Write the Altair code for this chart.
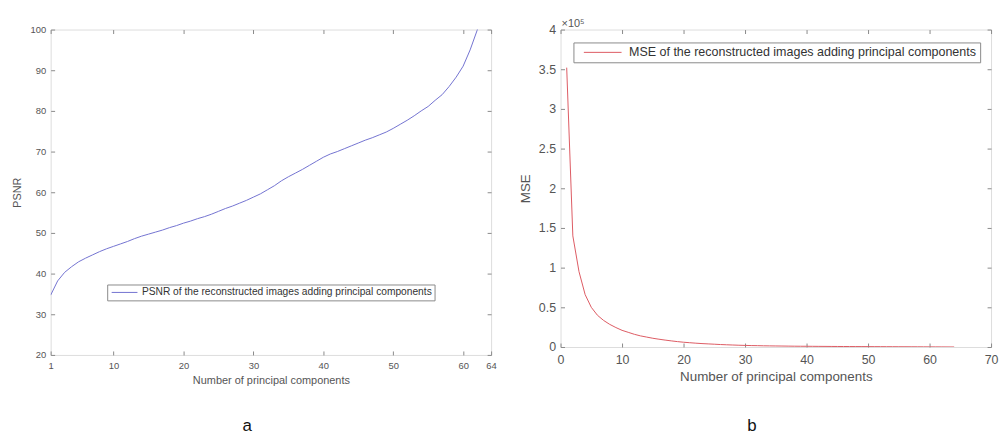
import altair as alt
import pandas as pd

# ---- data ----
components = list(range(1, 65))
psnr = [34.7, 38.2, 40.3, 41.7, 42.9, 43.8, 44.6, 45.4, 46.1, 46.7,
        47.3, 47.9, 48.6, 49.2, 49.7, 50.2, 50.7, 51.3, 51.8, 52.4,
        52.9, 53.5, 54.0, 54.6, 55.3, 56.0, 56.6, 57.3, 58.0, 58.8,
        59.6, 60.6, 61.6, 62.8, 63.8, 64.7, 65.6, 66.6, 67.6, 68.6,
        69.4, 70.0, 70.7, 71.4, 72.1, 72.8, 73.4, 74.1, 74.8, 75.7,
        76.7, 77.7, 78.8, 80.0, 81.1, 82.6, 84.0, 86.0, 88.3, 91.0,
        95.0, 99.8, 106.0, 118.0]
mse_e5 = [3.52, 1.40, 0.95, 0.66, 0.50, 0.40, 0.335, 0.285, 0.245, 0.21,
          0.185, 0.16, 0.14, 0.125, 0.11, 0.098, 0.087, 0.077, 0.068, 0.06,
          0.054, 0.048, 0.043, 0.039, 0.035, 0.031, 0.028, 0.025, 0.022, 0.02,
          0.018, 0.017, 0.015, 0.014, 0.013, 0.012, 0.011, 0.010, 0.0095, 0.009,
          0.0085, 0.008, 0.0075, 0.007, 0.0066, 0.0062, 0.0058, 0.0054, 0.005, 0.0047,
          0.0044, 0.0041, 0.0038, 0.0035, 0.0032, 0.0029, 0.0026, 0.0023, 0.002, 0.0017,
          0.0014, 0.001, 0.0006, 0.0002]
psnr_name = "PSNR of the reconstructed images adding principal components"
mse_name = "MSE of the reconstructed images adding principal components"
x_title = "Number of principal components"
left_xticks = [1, 10, 20, 30, 40, 50, 60, 64]
left_yticks = [20, 30, 40, 50, 60, 70, 80, 90, 100]
right_xticks = [0, 10, 20, 30, 40, 50, 60, 70]
right_yticks = [0, 0.5, 1, 1.5, 2, 2.5, 3, 3.5, 4]

df_l = pd.DataFrame({"x": components, "y": psnr, "series": psnr_name})
df_r = pd.DataFrame({"x": components, "y": mse_e5, "series": mse_name})

FONT = "Liberation Sans"
AX = "#8a8a8a"
TXT = "#555555"


def panel(df, name, color, xdom, xticks, ydom, yticks, ytitle, w, h,
          lab_fs, title_fs, leg_fs, leg_x, leg_y, sym, clip_h, leg_pad,
          sym_off, lab_off, letter, letter_y,
          xlp, xtp, ylp, ytp, yfmt=None):
    xs = alt.Scale(domain=xdom, nice=False, zero=False)
    ys = alt.Scale(domain=ydom, nice=False, zero=False)
    base = alt.Chart(df)
    yax = dict(values=yticks, orient="left", ticks=False, domain=False, grid=False,
               title=ytitle, labelFontSize=lab_fs, titleFontSize=title_fs,
               labelColor=TXT, titleColor=TXT, labelFont=FONT, titleFont=FONT,
               titleFontWeight="normal", labelPadding=ylp, titlePadding=ytp)
    if yfmt:
        yax["format"] = yfmt
    line = base.mark_line(clip=True, strokeWidth=1).encode(
        x=alt.X("x:Q", scale=xs, axis=alt.Axis(
            values=xticks, orient="bottom", ticks=False, domain=False, grid=False,
            title=x_title, labelFontSize=lab_fs, titleFontSize=title_fs,
            labelColor=TXT, titleColor=TXT, labelFont=FONT, titleFont=FONT,
            titleFontWeight="normal", labelPadding=xlp, titlePadding=xtp,
            labelFlush=False)),
        y=alt.Y("y:Q", scale=ys, axis=alt.Axis(**yax)),
        color=alt.Color("series:N", scale=alt.Scale(domain=[name], range=[color]),
                        legend=alt.Legend(
                            title=None, orient="none", legendX=leg_x, legendY=leg_y,
                            direction="horizontal", symbolType="stroke",
                            symbolSize=sym, symbolStrokeWidth=1, clipHeight=clip_h,
                            symbolOffset=sym_off, labelOffset=lab_off,
                            labelFontSize=leg_fs, labelFont=FONT, labelColor="#333333",
                            strokeColor="#8a8a8a", fillColor="white",
                            padding=leg_pad, labelLimit=0, cornerRadius=0)),
    )
    tk = dict(labels=False, domain=False, grid=False, ticks=True, tickSize=4,
              offset=-4, title=None, tickColor=AX)
    t1 = base.mark_line(opacity=0, clip=True).encode(
        x=alt.X("x:Q", scale=xs, axis=alt.Axis(values=xticks, orient="top", **tk)),
        y=alt.Y("y:Q", scale=ys, axis=alt.Axis(values=yticks, orient="right", **tk)))
    t2 = base.mark_line(opacity=0, clip=True).encode(
        x=alt.X("x:Q", scale=xs, axis=alt.Axis(values=xticks, orient="bottom", **tk)),
        y=alt.Y("y:Q", scale=ys, axis=alt.Axis(values=yticks, orient="left", **tk)))
    lab = alt.Chart(pd.DataFrame({"t": [letter]})).mark_text(
        fontSize=17, font=FONT, color="#111111", baseline="middle").encode(
        text="t:N", x=alt.value(w / 2 - 24), y=alt.value(letter_y))
    return alt.layer(line, t1, t2, lab).resolve_axis(
        x="independent", y="independent").properties(width=w, height=h)


left = panel(df_l, psnr_name, "#7272d0", [1, 64], left_xticks, [20, 100], left_yticks,
             "PSNR", 444, 328, 9.5, 11, 10.3, 57, 257, 676, 12, 2, 2, 4, "a", 400,
             xlp=6, xtp=4, ylp=5, ytp=8)
expo = alt.Chart(pd.DataFrame({"t": ["\u00d710\u2075"]})).mark_text(
    fontSize=11, font=FONT, color=TXT, align="left", baseline="bottom").encode(
    text="t:N", x=alt.value(1), y=alt.value(-1))
right_core = panel(df_r, mse_name, "#dd5a62", [0, 70], right_xticks, [0, 4], right_yticks,
                   "MSE", 434, 320, 12.5, 13.5, 12.6, 13, 13, 1444, 14, 3, 7, 7, "b", 400,
                   xlp=7, xtp=3, ylp=5, ytp=6, yfmt="~g")
right = alt.layer(right_core, expo).properties(width=434, height=320)

chart = alt.hconcat(left, right, spacing=21).resolve_scale(
    color="independent", x="independent", y="independent"
).resolve_legend(color="independent").properties(
    padding={"left": 2, "top": 7, "right": 0, "bottom": 0}
).configure_view(stroke=AX, strokeWidth=1).configure(background="white")

chart.save("out.html", embed_options={"renderer": "svg", "actions": False})
